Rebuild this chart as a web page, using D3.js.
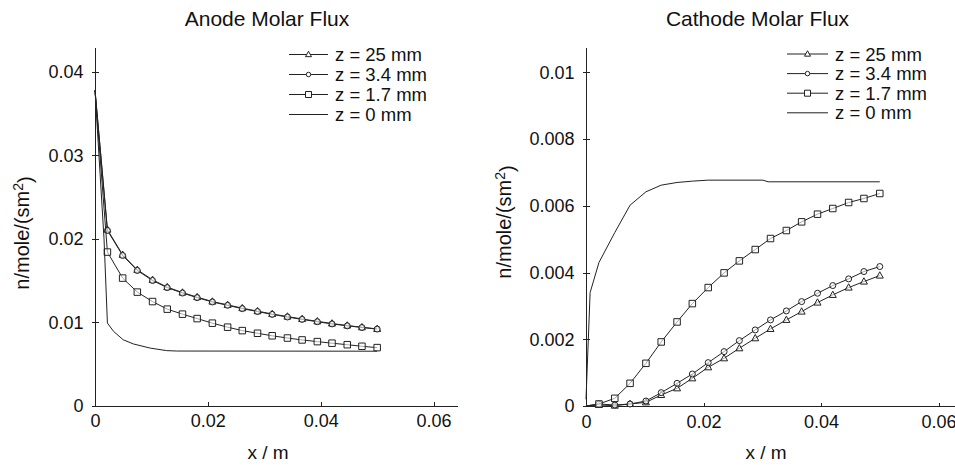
<!DOCTYPE html>
<html>
<head>
<meta charset="utf-8">
<script src="https://cdn.jsdelivr.net/npm/d3@7"></script>
<style>
  html, body { margin: 0; padding: 0; background: #fff; }
  svg { display: block; font-family: "Liberation Sans", Arial, Helvetica, sans-serif; }
  .axis path, .axis line { stroke: #222; stroke-width: 1; shape-rendering: crispEdges; }
  .axis text { font-size: 18px; fill: #111; font-family: "Liberation Sans", Arial, sans-serif; }
</style>
</head>
<body>
<svg id="chart" width="955" height="465"></svg>
<script>
// ---------- data ----------
const seriesNames = ["z = 25 mm", "z = 3.4 mm", "z = 1.7 mm", "z = 0 mm"];
const markerTypes = ["triangle", "circle", "square", "none"];
const xTicks = [0, 0.02, 0.04, 0.06];
const anodeYTicks = [0, 0.01, 0.02, 0.03, 0.04];
const cathodeYTicks = [0, 0.002, 0.004, 0.006, 0.008, 0.01];

// x positions of the marked nodes (m)
const xNodes = [0.0022, 0.0049, 0.0075, 0.0102, 0.0128, 0.0155, 0.0181, 0.0208, 0.0235, 0.0261,
                0.0288, 0.0314, 0.0341, 0.0367, 0.0394, 0.0420, 0.0447, 0.0473, 0.0500];

// Anode molar flux (values at xNodes), plus the inlet value at x = 0
const anodeInlet = 0.0378;
const anode25 = [0.0211, 0.01808, 0.01628, 0.01508, 0.01421, 0.01356, 0.01301, 0.01248, 0.01208, 0.01169,
                 0.01133, 0.01099, 0.01068, 0.01039, 0.01011, 0.00985, 0.00961, 0.0094, 0.0092];
const anode34 = [0.0210, 0.0180, 0.0162, 0.0150, 0.01415, 0.0135, 0.01295, 0.01243, 0.01203, 0.01163,
                 0.01128, 0.01094, 0.01063, 0.01034, 0.01006, 0.0098, 0.00957, 0.00937, 0.00918];
const anode17 = [0.01841, 0.01529, 0.01361, 0.01248, 0.01157, 0.01097, 0.01044, 0.00989, 0.00941, 0.00900,
                 0.00868, 0.00838, 0.00811, 0.00788, 0.00768, 0.00749, 0.00731, 0.00712, 0.00696];
const anode0X = [0, 0.0016, 0.0022, 0.0033, 0.0050, 0.0068, 0.0098, 0.0127, 0.0145, 0.0500];
const anode0Y = [0.0378, 0.0200, 0.0099, 0.0089, 0.0079, 0.0074, 0.0069, 0.0066, 0.00655, 0.00653];

// Cathode molar flux
const cathodeInlet = 0;
const cathode25 = [0.00003, 0.00001, 0.00006, 0.00011, 0.00033, 0.00053, 0.00083, 0.00116, 0.00143, 0.00173,
                   0.00203, 0.00231, 0.00258, 0.00283, 0.0031, 0.00333, 0.00355, 0.00373, 0.00391];
const cathode34 = [0.00006, 0.00003, 0.00006, 0.00015, 0.0004, 0.00068, 0.00096, 0.0013, 0.00163, 0.00196,
                   0.00228, 0.00258, 0.00285, 0.00313, 0.00338, 0.00361, 0.00381, 0.00403, 0.00418];
const cathode17 = [0.00006, 0.00023, 0.00068, 0.00128, 0.00192, 0.00252, 0.00307, 0.00355, 0.00399, 0.00435,
                   0.00469, 0.00502, 0.00526, 0.00552, 0.00575, 0.00592, 0.0061, 0.00622, 0.00637];
const cathode0X = [0, 0.0007, 0.0022, 0.0049, 0.0075, 0.0102, 0.0128, 0.0155, 0.0181, 0.0208, 0.0301, 0.0310, 0.0500];
const cathode0Y = [0.0002, 0.0034, 0.0043, 0.0052, 0.00602, 0.00642, 0.00662, 0.0067, 0.00674, 0.00677, 0.00677, 0.00672, 0.00672];

// ---------- drawing ----------
const svg = d3.select("#chart");
const FONT = '"Liberation Sans", Arial, Helvetica, sans-serif';
const LINE = "#222";

function markerPath(type, size) {
  const s = size;
  if (type === "square") return `M${-s/2},${-s/2}h${s}v${s}h${-s}Z`;
  if (type === "triangle") { const h = s * 0.9; return `M0,${-h*0.6}L${s/2},${h*0.4}L${-s/2},${h*0.4}Z`; }
  if (type === "circle") { const r = s/2; return `M${r},0A${r},${r} 0 1,1 ${-r},0A${r},${r} 0 1,1 ${r},0Z`; }
  return "";
}

function panel(cfg) {
  const g = svg.append("g");
  const x = d3.scaleLinear().domain(cfg.xDomain).range(cfg.xRange);
  const y = d3.scaleLinear().domain(cfg.yDomain).range(cfg.yRange);

  // axes
  const yAxis = d3.axisLeft(y).tickValues(cfg.yTicks).tickSizeInner(3.5).tickSizeOuter(0)
    .tickPadding(8).tickFormat(d => d === 0 ? "0" : String(+d.toFixed(4)));
  const ga = g.append("g").attr("class", "axis").attr("transform", `translate(${cfg.xRange[0]},0)`).call(yAxis);
  ga.selectAll(".tick line").attr("x1", 3.5).attr("x2", -3.5);

  const xAxis = d3.axisBottom(x).tickValues(xTicks).tickSizeInner(-3.5).tickSizeOuter(0)
    .tickPadding(9).tickFormat(d => d === 0 ? "0" : String(+d.toFixed(3)));
  g.append("g").attr("class", "axis").attr("transform", `translate(0,${cfg.yRange[0]})`).call(xAxis);

  // title
  g.append("text").attr("x", cfg.titleX).attr("y", 26).attr("text-anchor", "middle")
    .style("font-size", "21px").style("font-family", FONT).attr("fill", "#111").text(cfg.title);
  // x label
  g.append("text").attr("x", cfg.xLabelX).attr("y", 459).attr("text-anchor", "middle")
    .style("font-size", "19px").style("font-family", FONT).attr("fill", "#111").text("x / m");
  // y label
  const yl = g.append("text").attr("transform", `translate(${cfg.yLabelX},${cfg.yLabelY}) rotate(-90)`)
    .attr("text-anchor", "middle").style("font-size", "20px").style("font-family", FONT).attr("fill", "#111");
  yl.append("tspan").text("n/mole/(sm");
  yl.append("tspan").attr("dy", "-0.45em").style("font-size", "14px").text("2");
  yl.append("tspan").attr("dy", "0.45em").text(")");

  const line = d3.line().x(d => x(d[0])).y(d => y(d[1]));

  // series
  cfg.series.forEach((s, i) => {
    const pts = s.xs.map((xv, k) => [xv, s.ys[k]]);
    g.append("path").datum(pts).attr("d", line).attr("fill", "none")
      .attr("stroke", LINE).attr("stroke-width", 1);
    if (s.marker !== "none") {
      const mpts = s.markerXs.map((xv, k) => [xv, s.markerYs[k]]);
      g.selectAll(null).data(mpts).enter().append("path")
        .attr("d", markerPath(s.marker, s.marker === "square" ? 6.5 : (s.marker === "circle" ? 6 : 7)))
        .attr("transform", d => `translate(${x(d[0])},${y(d[1])})`)
        .attr("fill", "#fff").attr("fill-opacity", 0.6).attr("stroke", LINE).attr("stroke-width", 1);
    }
  });

  // legend
  const lg = g.append("g");
  seriesNames.forEach((name, i) => {
    const yy = cfg.legY + i * cfg.legStep;
    lg.append("line").attr("x1", cfg.legX0).attr("x2", cfg.legX1).attr("y1", yy).attr("y2", yy)
      .attr("stroke", LINE).attr("stroke-width", 1);
    if (markerTypes[i] !== "none") {
      lg.append("path").attr("d", markerPath(markerTypes[i], markerTypes[i] === "square" ? 6 : (markerTypes[i] === "circle" ? 4.5 : 6)))
        .attr("transform", `translate(${(cfg.legX0 + cfg.legX1) / 2},${yy})`)
        .attr("fill", "#fff").attr("stroke", LINE).attr("stroke-width", 1);
    }
    lg.append("text").attr("x", cfg.legX1 + 7).attr("y", yy + 6.5)
      .style("font-size", "18.5px").style("font-family", FONT).attr("fill", "#111").text(name);
  });
}

panel({
  title: "Anode Molar Flux", titleX: 267, xLabelX: 268, yLabelX: 29, yLabelY: 233,
  xDomain: [0, 0.0642], xRange: [95, 457.3],
  yDomain: [0, 0.0429], yRange: [405.7, 47.7], yTicks: anodeYTicks,
  legX0: 289, legX1: 328, legY: 54.5, legStep: 20,
  series: [
    { xs: [0].concat(xNodes), ys: [anodeInlet].concat(anode25), markerXs: xNodes, markerYs: anode25, marker: "triangle" },
    { xs: [0].concat(xNodes), ys: [anodeInlet].concat(anode34), markerXs: xNodes, markerYs: anode34, marker: "circle" },
    { xs: [0].concat(xNodes), ys: [anodeInlet].concat(anode17), markerXs: xNodes, markerYs: anode17, marker: "square" },
    { xs: anode0X, ys: anode0Y, marker: "none" }
  ]
});

panel({
  title: "Cathode Molar Flux", titleX: 757.5, xLabelX: 766, yLabelX: 511, yLabelY: 222,
  xDomain: [0, 0.0628], xRange: [586, 955],
  yDomain: [0, 0.01074], yRange: [406, 47.7], yTicks: cathodeYTicks,
  legX0: 787, legX1: 828, legY: 54, legStep: 19.6,
  series: [
    { xs: [0].concat(xNodes), ys: [cathodeInlet].concat(cathode25), markerXs: xNodes, markerYs: cathode25, marker: "triangle" },
    { xs: [0].concat(xNodes), ys: [cathodeInlet].concat(cathode34), markerXs: xNodes, markerYs: cathode34, marker: "circle" },
    { xs: [0].concat(xNodes), ys: [cathodeInlet].concat(cathode17), markerXs: xNodes, markerYs: cathode17, marker: "square" },
    { xs: cathode0X, ys: cathode0Y, marker: "none" }
  ]
});
</script>
</body>
</html>
